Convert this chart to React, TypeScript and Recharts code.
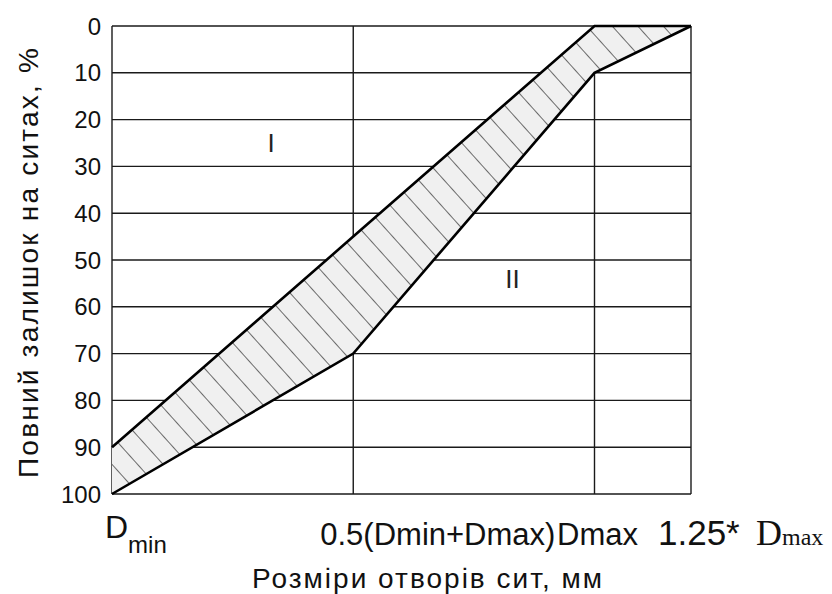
import * as React from 'react';
import { ComposedChart, Area, Line, XAxis, YAxis, CartesianGrid, ReferenceDot } from 'recharts';

// sieve openings: Dmin, 0.5(Dmin+Dmax), Dmax, 1.25*Dmax (positions on the axis)
const sieveSizes = [0, 0.5, 1, 1.2];
// total residue on sieves, % (upper and lower limits of the recommended zone)
const upperLimit = [90, 45, 0, 0];
const lowerLimit = [100, 70, 10, 0];
const residueTicks = [0, 10, 20, 30, 40, 50, 60, 70, 80, 90, 100];

const zoneLabels = [
  { name: 'I', x: 0.33, y: 25 },
  { name: 'II', x: 0.83, y: 54 },
];

const data = sieveSizes.map((x, i) => ({
  x,
  upper: upperLimit[i],
  lower: lowerLimit[i],
  band: [upperLimit[i], lowerLimit[i]],
}));

const SANS = '"Liberation Sans", Arial, sans-serif';
const SERIF = '"Liberation Serif", "Times New Roman", serif';

const SieveTick = (props: any) => {
  const { x, y, index } = props;
  const base = y + 51;
  if (index === 0) {
    return (
      <text x={x - 7} y={base - 7} fontFamily={SANS} fill="#111">
        <tspan fontSize={32}>D</tspan>
        <tspan fontSize={24} dy={15}>min</tspan>
      </text>
    );
  }
  if (index === 1) {
    return (
      <text x={x - 33} y={base} fontFamily={SANS} fontSize={31} fill="#111">
        0.5(Dmin+Dmax)
      </text>
    );
  }
  if (index === 2) {
    return (
      <text x={x + 3} y={base} fontFamily={SANS} fontSize={31} fill="#111" textAnchor="middle">
        Dmax
      </text>
    );
  }
  return (
    <g>
      <text x={x - 33} y={base} fontFamily={SANS} fontSize={35} fill="#111">
        1.25*
      </text>
      <text x={x + 65} y={base} fill="#111" fontFamily={SERIF}>
        <tspan fontSize={36}>D</tspan>
        <tspan fontSize={24}>max</tspan>
      </text>
    </g>
  );
};

const XTitle = (props: any) => {
  const { viewBox } = props;
  return (
    <text x={viewBox.x + 140} y={viewBox.y + 94} fontFamily={SANS} fontSize={28} fill="#111"
      textLength={350} lengthAdjust="spacing">
      Розміри отворів сит, мм
    </text>
  );
};

const YTitle = (props: any) => {
  const { viewBox } = props;
  const cy = viewBox.y + viewBox.height / 2 + 3;
  return (
    <text x={38} y={cy} transform={`rotate(-90 38 ${cy})`} fontFamily={SANS} fontSize={28}
      fill="#111" textAnchor="middle" textLength={430} lengthAdjust="spacing">
      Повний залишок на ситах, %
    </text>
  );
};

const ZoneLabel = (props: any) => {
  const { viewBox, value } = props;
  return (
    <text x={viewBox.x} y={viewBox.y + 9} fontFamily={SANS} fontSize={26} fill="#222" textAnchor="middle">
      {value}
    </text>
  );
};

const App: React.FC = () => {
  return (
    <div style={{ position: 'absolute', left: 0, top: 0, background: '#fff' }}>
      <ComposedChart width={832} height={594} data={data}
        margin={{ top: 26, right: 141, bottom: 0, left: 0 }}>
        <defs>
          <pattern id="hatch" patternUnits="userSpaceOnUse" width={19} height={20}
            patternTransform="rotate(-42)">
            <rect width={19} height={20} fill="#f0f0f0" />
            <line x1={0} y1={0} x2={0} y2={20} stroke="#222" strokeWidth={1.3} />
          </pattern>
        </defs>
        <CartesianGrid stroke="#1a1a1a" strokeWidth={1.4} fill="#fff" />
        <XAxis dataKey="x" type="number" domain={[0, 1.2]} ticks={sieveSizes} interval={0}
          height={100} axisLine={false} tickLine={false} tickSize={0} tickMargin={0}
          tick={<SieveTick />} label={<XTitle />} />
        <YAxis type="number" domain={[0, 100]} reversed ticks={residueTicks} interval={0}
          width={112} axisLine={false} tickLine={false} tickSize={0} tickMargin={11}
          tick={{ fontFamily: SANS, fontSize: 24, fill: '#111' }} label={<YTitle />} />
        <Area dataKey="band" type="linear" fill="url(#hatch)" fillOpacity={1} stroke="none"
          isAnimationActive={false} />
        <Line dataKey="upper" type="linear" stroke="#000" strokeWidth={2.6} dot={false}
          isAnimationActive={false} />
        <Line dataKey="lower" type="linear" stroke="#000" strokeWidth={2.6} dot={false}
          isAnimationActive={false} />
        {zoneLabels.map((z) => (
          <ReferenceDot key={z.name} x={z.x} y={z.y} r={0} stroke="none"
            label={<ZoneLabel value={z.name} />} />
        ))}
      </ComposedChart>
    </div>
  );
};

export default App;
